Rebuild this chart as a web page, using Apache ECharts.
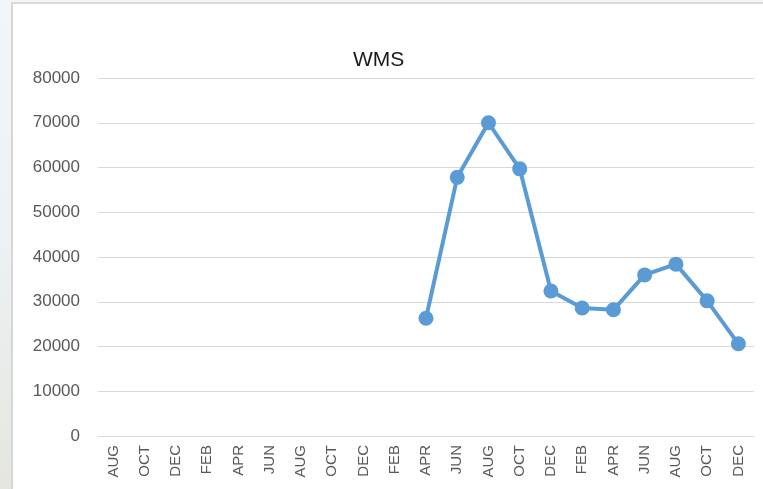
<!DOCTYPE html>
<html>
<head>
<meta charset="utf-8">
<script src="https://cdn.jsdelivr.net/npm/echarts@6/dist/echarts.min.js"></script>
<style>
  html, body { margin: 0; padding: 0; }
  body {
    width: 763px; height: 489px; overflow: hidden;
    background: linear-gradient(to bottom, #f3f6f9 0%, #eef1f3 50%, #e4e6df 100%);
    position: relative;
  }
  #panel {
    position: absolute; left: 11px; top: 2px;
    width: 752px; height: 487px;
    border-left: 2px solid #d6d6d6; border-top: 2px solid #dadada;
    background: #fff;
  }
  #chart { width: 750px; height: 485px; }
</style>
</head>
<body>
<div id="panel"><div id="chart"></div></div>
<script>
// month labels, two-month steps
const months = [
  'AUG', 'OCT', 'DEC', 'FEB', 'APR', 'JUN', 'AUG',
  'OCT', 'DEC', 'FEB', 'APR', 'JUN', 'AUG', 'OCT',
  'DEC', 'FEB', 'APR', 'JUN', 'AUG', 'OCT', 'DEC'
];
// WMS values (no data before the second APR)
const wms = [
  null, null, null, null, null, null, null,
  null, null, null, 26300, 57800, 70000, 59700,
  32400, 28600, 28200, 36000, 38400, 30200, 20600
];
const yTicks = { min: 0, max: 80000, step: 10000 };

const font = '"Liberation Sans", Arial, sans-serif';
const myChart = echarts.init(document.getElementById('chart'));

myChart.setOption({
  animation: false,
  title: {
    text: 'WMS',
    left: 335,
    top: 41,
    textStyle: { fontFamily: font, fontSize: 21, fontWeight: 'normal', color: '#1a1a1a' }
  },
  grid: { left: 85, right: 9, top: 74, bottom: 53 },
  xAxis: {
    type: 'category',
    data: months,
    boundaryGap: true,
    axisLine: { lineStyle: { color: '#d9d9d9', width: 1 } },
    axisTick: { show: false },
    axisLabel: {
      interval: 0,
      rotate: 90,
      margin: 9,
      fontFamily: font,
      fontSize: 15,
      color: '#595959'
    }
  },
  yAxis: {
    type: 'value',
    min: yTicks.min,
    max: yTicks.max,
    interval: yTicks.step,
    axisLine: { show: false },
    axisTick: { show: false },
    splitLine: { lineStyle: { color: '#d9d9d9', width: 1 } },
    axisLabel: {
      margin: 18,
      fontFamily: font,
      fontSize: 17,
      color: '#595959',
      formatter: (v) => String(v)
    }
  },
  series: [
    {
      name: 'WMS',
      type: 'line',
      data: wms,
      symbol: 'circle',
      symbolSize: 15,
      lineStyle: { color: '#5b9bd5', width: 4 },
      itemStyle: { color: '#5b9bd5' }
    }
  ]
});
</script>
</body>
</html>
